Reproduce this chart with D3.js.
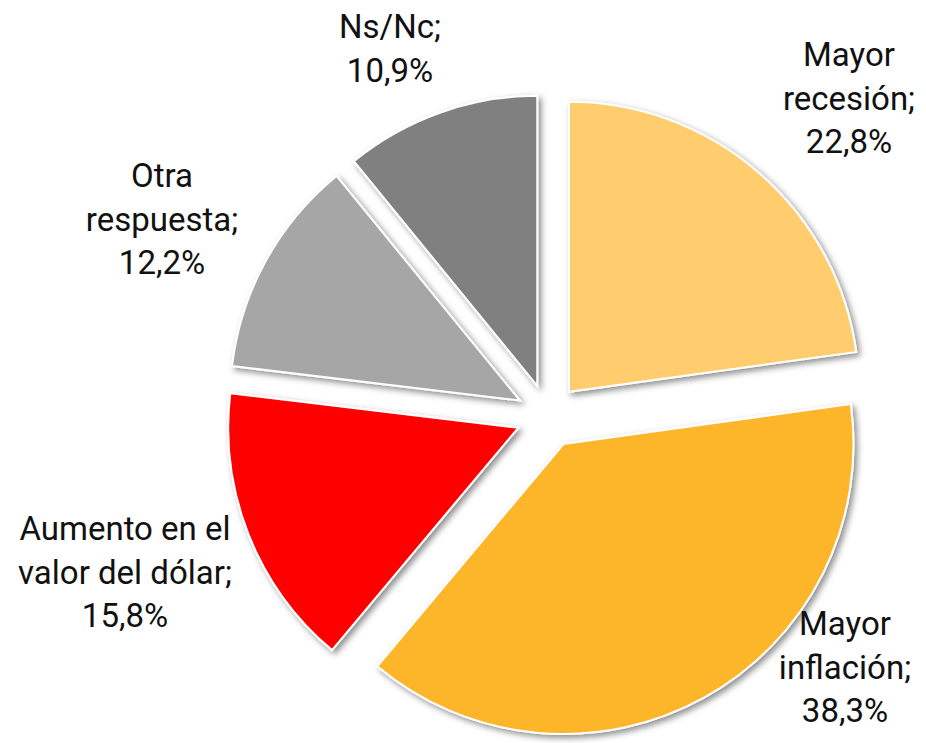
<!DOCTYPE html>
<html><head><meta charset="utf-8">
<script src="https://cdn.jsdelivr.net/npm/d3@7"></script>
<style>body{margin:0;background:#fff}svg{display:block}</style>
</head><body>
<script>
const categories = ["Mayor recesión", "Mayor inflación", "Aumento en el valor del dólar", "Otra respuesta", "Ns/Nc"];
const values = [22.8, 38.3, 15.8, 12.2, 10.9];
const valueLabels = ["22,8%", "38,3%", "15,8%", "12,2%", "10,9%"];
const labelLines = [["Mayor","recesión;"],["Mayor","inflación;"],["Aumento en el","valor del dólar;"],["Otra","respuesta;"],["Ns/Nc;"]];
const colors = ["#FFCC6E", "#FDB52B", "#FF0000", "#A6A6A6", "#808080"];

const W = 926, H = 743;
const cx = 548, cy = 416, R = 290, explode = 32;
const svg = d3.select("body").append("svg").attr("width", W).attr("height", H);
const defs = svg.append("defs");
const f = defs.append("filter").attr("id","sh").attr("x","-20%").attr("y","-20%").attr("width","140%").attr("height","140%");
f.append("feDropShadow").attr("dx",3).attr("dy",3).attr("stdDeviation",3).attr("flood-color","#000").attr("flood-opacity",0.45);

const pie = d3.pie().sort(null).value(d => d)(values);
const arc = d3.arc().innerRadius(0).outerRadius(R);
const g = svg.append("g").attr("transform", `translate(${cx},${cy})`);
g.selectAll("path").data(pie).join("path")
  .attr("d", arc)
  .attr("transform", d => { const a = (d.startAngle + d.endAngle)/2; return `translate(${explode*Math.sin(a)},${-explode*Math.cos(a)})`; })
  .attr("fill", (d,i) => colors[i])
  .attr("stroke", "#fff").attr("stroke-width", 2)
  .attr("filter", "url(#sh)");

// label anchor positions (center x, first baseline y)
const labelPos = [[849, 66], [845, 635], [125, 540], [162, 187], [390, 38]];
const lh = 43.5;
labelPos.forEach((p, i) => {
  const lines = labelLines[i].concat([valueLabels[i]]);
  const t = svg.append("text").attr("text-anchor","middle")
    .attr("font-family","Roboto, 'DejaVu Sans', sans-serif").attr("font-size", 33).attr("fill","#111");
  lines.forEach((l, j) => t.append("tspan").attr("x", p[0]).attr("y", p[1] + j*lh).text(l));
});
</script>
</body></html>
